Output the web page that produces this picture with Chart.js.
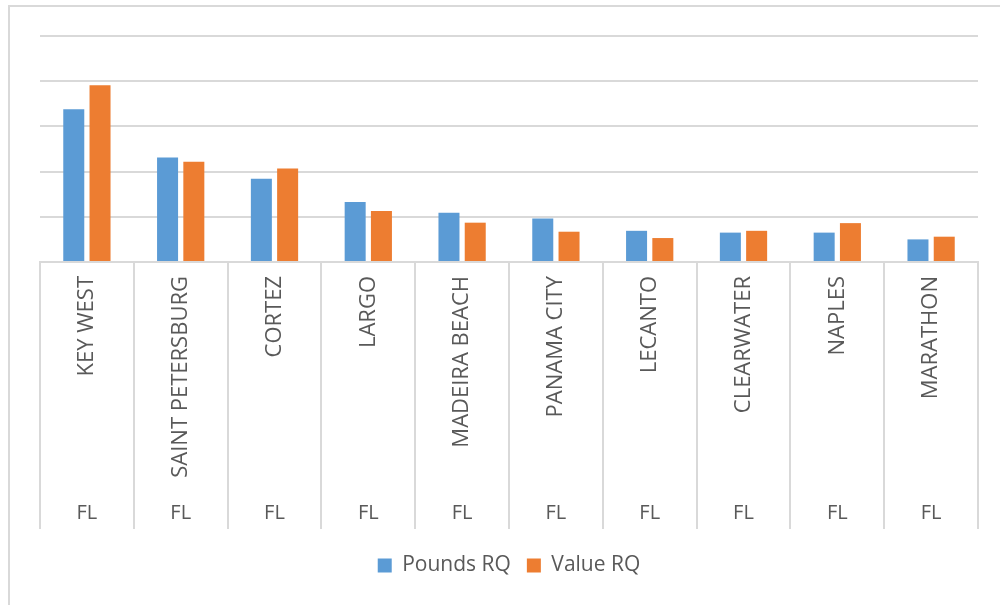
<!DOCTYPE html>
<html>
<head>
<meta charset="utf-8">
<script src="https://cdn.jsdelivr.net/npm/chart.js@4.4.0/dist/chart.umd.min.js"></script>
<style>
  html, body { margin: 0; padding: 0; background: #fff; overflow: hidden; }
  #wrap { position: relative; width: 1000px; height: 605px; overflow: hidden; }
  #frame { position: absolute; left: 8px; top: 5px; width: 1100px; height: 700px; border: 2px solid #d9d9d9; }
  #chart1 { position: absolute; left: 0; top: 0; }
</style>
</head>
<body>
<div id="wrap">
  <div id="frame"></div>
  <canvas id="chart1" width="1000" height="605"></canvas>
</div>
<script>
  "use strict";

  // data (units = one gridline)
  var cities = ['KEY WEST', 'SAINT PETERSBURG', 'CORTEZ', 'LARGO', 'MADEIRA BEACH',
                'PANAMA CITY', 'LECANTO', 'CLEARWATER', 'NAPLES', 'MARATHON'];
  var states = ['FL', 'FL', 'FL', 'FL', 'FL', 'FL', 'FL', 'FL', 'FL', 'FL'];
  var poundsRQ = [3.38, 2.31, 1.84, 1.33, 1.09, 0.96, 0.69, 0.65, 0.65, 0.50];
  var valueRQ  = [3.91, 2.22, 2.07, 1.13, 0.87, 0.67, 0.53, 0.69, 0.86, 0.56];

  var textColor = '#595959';
  var lineColor = '#d9d9d9';
  var fontFamily = '"Open Sans", "Liberation Sans", sans-serif';

  // chart1
  var ctx = document.getElementById('chart1').getContext('2d');

  var myChart = new Chart(ctx, {
      type: 'bar',
      data: {
          labels: cities,
          datasets: [{
              label: 'Pounds RQ',
              data: poundsRQ,
              backgroundColor: '#5b9bd5',
              borderWidth: 0
          },
          {
              label: 'Value RQ',
              data: valueRQ,
              backgroundColor: '#ed7d31',
              borderWidth: 0
          }]
      },
      options: {
          responsive: false,
          animation: false,
          categoryPercentage: 0.56,
          barPercentage: 0.8,
          layout: {
              padding: { left: 40, right: 22, top: 36, bottom: 19 }
          },
          plugins: {
              tooltip: { enabled: false },
              legend: {
                  position: 'bottom',
                  labels: {
                      color: textColor,
                      boxWidth: 14,
                      boxHeight: 14,
                      padding: 16,
                      font: { family: fontFamily, size: 21 }
                  }
              }
          },
          scales: {
              x: {
                  weight: 0,
                  offset: true,
                  grid: {
                      display: true,
                      drawOnChartArea: false,
                      offset: true,
                      color: lineColor,
                      lineWidth: 2,
                      tickLength: 267   // separators run down through the FL row
                  },
                  border: { display: true, color: lineColor, width: 2 },
                  ticks: {
                      autoSkip: false,
                      minRotation: 90,
                      maxRotation: 90,
                      padding: -253,
                      color: textColor,
                      font: { family: fontFamily, size: 22 }
                  },
                  afterFit: function(scale) { scale.height = 229; }
              },
              x2: {
                  type: 'category',
                  labels: states,
                  position: 'bottom',
                  weight: 1,
                  offset: true,
                  grid: { display: false },
                  border: { display: false },
                  ticks: {
                      autoSkip: false,
                      maxRotation: 0,
                      padding: 2,
                      color: textColor,
                      font: { family: fontFamily, size: 20 }
                  },
                  afterFit: function(scale) { scale.height = 48; }
              },
              y: {
                  min: 0,
                  max: 5,
                  ticks: { display: false, stepSize: 1 },
                  border: { display: false },
                  grid: { color: lineColor, lineWidth: 2, drawTicks: false },
                  afterFit: function(scale) { scale.width = 0; }
              }
          }
      }
  });
</script>
</body>
</html>
